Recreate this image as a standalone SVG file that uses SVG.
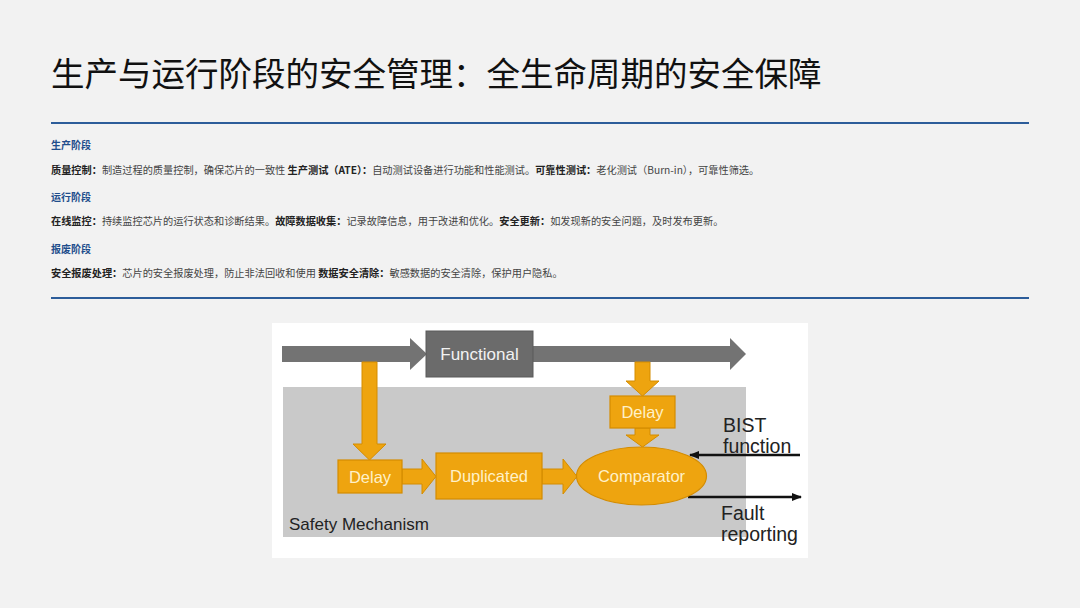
<svg xmlns="http://www.w3.org/2000/svg" width="1080" height="608" viewBox="0 0 1080 608">
  <style>
    .cjk { font-family: "Noto Sans CJK SC", "Noto Sans", sans-serif; }
    .title { font-size: 33.5px; fill: #111; }
    .head { font-size: 10px; fill: #1f4e8c; font-weight: bold; }
    .body { font-size: 10.2px; fill: #444; }
    .b { font-weight: bold; fill: #222; }
    .lat { font-family: "Liberation Sans", Arial, sans-serif; }
    .obox { fill: #eea40f; stroke: #d48c00; stroke-width: 1.2; }
    .otxt { font-size: 16.5px; fill: #fff1c8; text-anchor: middle; }
    .oarrow { fill: #eea40f; stroke: #d48c00; stroke-width: 1; }
    .garrow { fill: #737373; }
    .ltxt { font-size: 19.5px; fill: #222; }
  </style>
  <defs>
    <marker id="ah" markerWidth="10" markerHeight="10" refX="9" refY="5" orient="auto" markerUnits="userSpaceOnUse">
      <path d="M0,1 L10,5 L0,9 Z" fill="#111"/>
    </marker>
  </defs>
  <rect width="1080" height="608" fill="#f2f2f2"/>

  <g id="title">
    <text class="cjk title" x="51" y="86">生产与运行阶段的安全管理：全生命周期的安全保障</text>
    <line x1="51" y1="123" x2="1029" y2="123" stroke="#2d5d9a" stroke-width="2"/>
  </g>

  <g id="text-block">
    <text class="cjk head" x="51" y="149">生产阶段</text>
    <text class="cjk body" x="51" y="174"><tspan class="b">质量控制：</tspan>制造过程的质量控制，确保芯片的一致性 <tspan class="b">生产测试（ATE）：</tspan>自动测试设备进行功能和性能测试。<tspan class="b">可靠性测试：</tspan>老化测试（Burn-in），可靠性筛选。</text>
    <text class="cjk head" x="51" y="201">运行阶段</text>
    <text class="cjk body" x="51" y="225"><tspan class="b">在线监控：</tspan>持续监控芯片的运行状态和诊断结果。<tspan class="b">故障数据收集：</tspan>记录故障信息，用于改进和优化。<tspan class="b">安全更新：</tspan>如发现新的安全问题，及时发布更新。</text>
    <text class="cjk head" x="51" y="253">报废阶段</text>
    <text class="cjk body" x="51" y="277"><tspan class="b">安全报废处理：</tspan>芯片的安全报废处理，防止非法回收和使用 <tspan class="b">数据安全清除：</tspan>敏感数据的安全清除，保护用户隐私。</text>
    <line x1="51" y1="298" x2="1029" y2="298" stroke="#2d5d9a" stroke-width="2"/>
  </g>

  <g id="panel">
    <rect x="272" y="323" width="536" height="235" fill="#ffffff"/>
  </g>

  <g id="safety-mechanism">
    <rect x="283" y="387" width="463" height="150" fill="#c9c9c9"/>
    <text class="lat" x="289" y="530" font-size="17" fill="#222">Safety Mechanism</text>
  </g>

  <g id="connectors">
    <path class="garrow" d="M282,346 L410,346 L410,338 L427,354 L410,370 L410,362 L282,362 Z"/>
    <path class="garrow" d="M533,346 L730,346 L730,338 L746,354 L730,370 L730,362 L533,362 Z"/>
    <path class="oarrow" d="M362,362 L377,362 L377,444 L386,444 L369.5,460 L353,444 L362,444 Z"/>
    <path class="oarrow" d="M402,469 L422,469 L422,459 L436,476.5 L422,494 L422,484 L402,484 Z"/>
    <path class="oarrow" d="M542,469 L563,469 L563,459 L577,476.5 L563,494 L563,484 L542,484 Z"/>
    <path class="oarrow" d="M635,362 L650,362 L650,381 L659,381 L642.5,396 L626,381 L635,381 Z"/>
    <path class="oarrow" d="M635,428 L650,428 L650,435 L659,435 L642.5,447 L626,435 L635,435 Z"/>
    <line x1="800" y1="455" x2="690" y2="455" stroke="#111" stroke-width="2.5" marker-end="url(#ah)"/>
    <line x1="688" y1="497" x2="801" y2="497" stroke="#111" stroke-width="2.5" marker-end="url(#ah)"/>
  </g>

  <g id="functional">
    <rect x="426" y="331" width="107" height="46" fill="#6b6b6b" stroke="#5a5a5a" stroke-width="1"/>
    <text class="lat" x="479.5" y="360" font-size="17" fill="#f2f2f2" text-anchor="middle">Functional</text>
  </g>

  <g id="delay-left">
    <rect class="obox" x="338" y="460" width="64" height="33"/>
    <text class="lat otxt" x="370" y="483">Delay</text>
  </g>

  <g id="duplicated">
    <rect class="obox" x="436" y="453" width="106" height="46"/>
    <text class="lat otxt" x="489" y="482">Duplicated</text>
  </g>

  <g id="delay-right">
    <rect class="obox" x="610" y="396" width="65" height="32"/>
    <text class="lat otxt" x="642.5" y="418">Delay</text>
  </g>

  <g id="comparator">
    <ellipse class="obox" cx="641.5" cy="476" rx="65" ry="29"/>
    <text class="lat otxt" x="641.5" y="482" font-size="17">Comparator</text>
  </g>

  <g id="bist-label">
    <text class="lat ltxt" x="723" y="432">BIST</text>
    <text class="lat ltxt" x="723" y="453">function</text>
  </g>

  <g id="fault-label">
    <text class="lat ltxt" x="721" y="520">Fault</text>
    <text class="lat ltxt" x="721" y="541">reporting</text>
  </g>
</svg>
